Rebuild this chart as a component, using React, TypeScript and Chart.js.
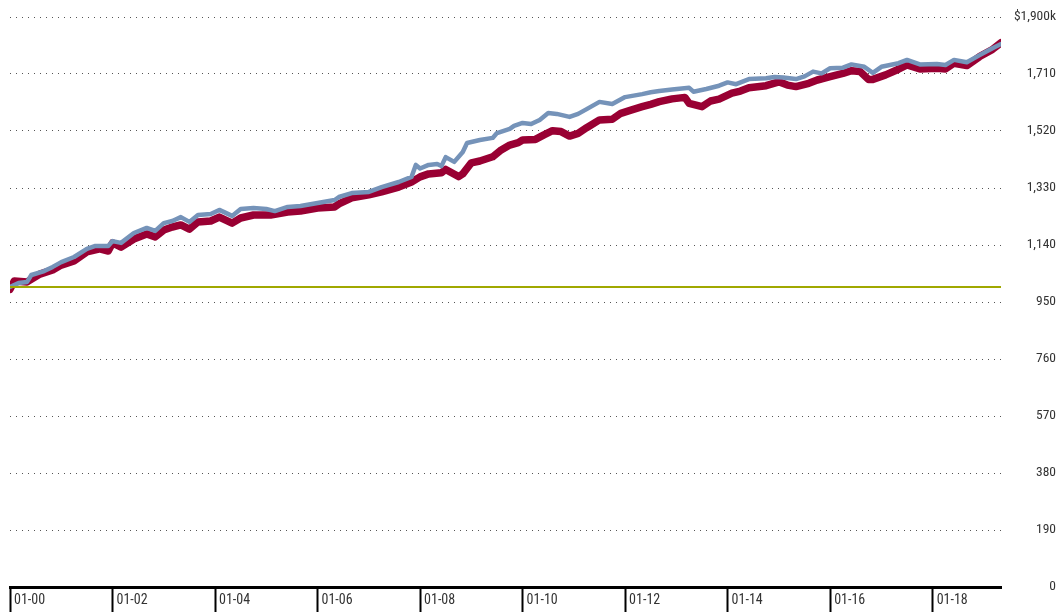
import React, { useEffect, useRef } from "react";
import { Chart, registerables } from "chart.js";

Chart.register(...registerables);

// Month index since Jan 2000 (x) and portfolio value in $k (y)
const blueMonths = [0, 2, 4, 5, 8, 10, 12, 15, 18, 20, 23, 24, 26, 29, 32, 34, 36, 38, 40, 42, 44, 47, 49, 52, 54, 57, 60, 62, 65, 68, 72, 76, 77, 80, 84, 87, 91, 94, 95, 96, 98, 100, 101, 102, 104, 106, 107, 110, 113, 114, 117, 118, 120, 122, 124, 126, 128, 131, 133, 135, 138, 141, 144, 148, 150, 152, 155, 159, 160, 163, 166, 168, 170, 173, 177, 179, 181, 184, 186, 188, 190, 192, 195, 197, 200, 202, 204, 208, 210, 213, 217, 219, 221, 224, 227, 230, 232];
const blueValues = [1000, 1013, 1017, 1040, 1053, 1067, 1083, 1100, 1127, 1137, 1137, 1153, 1147, 1180, 1197, 1187, 1213, 1220, 1233, 1217, 1240, 1243, 1257, 1237, 1260, 1263, 1260, 1253, 1267, 1270, 1280, 1290, 1300, 1313, 1317, 1333, 1350, 1367, 1407, 1395, 1407, 1410, 1403, 1433, 1417, 1450, 1480, 1490, 1497, 1513, 1527, 1537, 1547, 1543, 1557, 1580, 1577, 1567, 1577, 1593, 1617, 1610, 1633, 1643, 1649, 1653, 1658, 1664, 1651, 1660, 1671, 1682, 1676, 1693, 1696, 1700, 1698, 1693, 1702, 1718, 1712, 1729, 1731, 1742, 1734, 1714, 1734, 1746, 1757, 1742, 1743, 1740, 1757, 1749, 1773, 1796, 1810];

const redMonths = [0, 1, 4, 7, 10, 12, 15, 18, 21, 23, 24, 26, 29, 32, 34, 36, 38, 40, 42, 44, 47, 49, 52, 54, 57, 61, 65, 68, 72, 76, 77, 80, 84, 87, 91, 94, 96, 98, 101, 102, 105, 106, 108, 110, 113, 115, 117, 119, 120, 123, 125, 127, 129, 131, 133, 135, 138, 141, 143, 145, 148, 150, 152, 155, 158, 159, 162, 164, 166, 169, 171, 173, 177, 180, 182, 184, 187, 189, 192, 195, 197, 199, 201, 202, 205, 208, 210, 213, 217, 219, 221, 224, 227, 230, 232];
const redValues = [992, 1020, 1017, 1043, 1057, 1073, 1087, 1117, 1127, 1120, 1147, 1133, 1160, 1177, 1167, 1190, 1200, 1207, 1193, 1217, 1220, 1233, 1213, 1230, 1240, 1240, 1250, 1253, 1263, 1267, 1277, 1297, 1307, 1317, 1333, 1350, 1367, 1377, 1381, 1392, 1368, 1377, 1414, 1420, 1434, 1457, 1473, 1481, 1490, 1492, 1507, 1521, 1518, 1503, 1512, 1531, 1557, 1559, 1579, 1588, 1601, 1609, 1618, 1627, 1632, 1612, 1601, 1620, 1626, 1646, 1653, 1664, 1671, 1684, 1673, 1668, 1679, 1690, 1701, 1712, 1721, 1718, 1692, 1692, 1707, 1726, 1740, 1727, 1729, 1727, 1746, 1738, 1768, 1792, 1814];

const baselineMonths = [0, 232];
const baselineValues = [1000, 1000];

const xTickMonths = [0, 24, 48, 72, 96, 120, 144, 168, 192, 216];
const xTickLabels = ["01-00", "01-02", "01-04", "01-06", "01-08", "01-10", "01-12", "01-14", "01-16", "01-18"];
const yTickValues = [0, 190, 380, 570, 760, 950, 1140, 1330, 1520, 1710, 1900];
const yTickLabels = ["0", "190", "380", "570", "760", "950", "1,140", "1,330", "1,520", "1,710", "$1,900k"];

const FONT = "'Roboto Condensed', 'Liberation Sans Narrow', 'Arial Narrow', 'DejaVu Sans Condensed', sans-serif";

const toPoints = (xs: number[], ys: number[]) => xs.map((x, i) => ({ x, y: ys[i] }));

// Draws the x-axis tick labels beside the long tick marks (as in the reference)
const xLabelPlugin = {
  id: "xLabelsBeside",
  afterDraw(chart: any) {
    const xs = chart.scales.x;
    const ctx = chart.ctx;
    ctx.save();
    ctx.font = `14px ${FONT}`;
    ctx.fillStyle = "#333";
    ctx.textAlign = "left";
    ctx.textBaseline = "middle";
    xTickMonths.forEach((m, i) => {
      ctx.fillText(xTickLabels[i], xs.getPixelForValue(m) + 4, 600);
    });
    ctx.restore();
  },
};

export default function App() {
  const ref = useRef<HTMLCanvasElement | null>(null);

  useEffect(() => {
    if (!ref.current) return;
    const chart = new Chart(ref.current, {
      type: "line",
      data: {
        datasets: [
          {
            label: "Benchmark",
            data: toPoints(baselineMonths, baselineValues),
            borderColor: "#a0a800",
            borderWidth: 2,
            pointRadius: 0,
            order: 0,
          },
          {
            label: "Blue",
            data: toPoints(blueMonths, blueValues),
            borderColor: "#7593b9",
            borderWidth: 4.5,
            pointRadius: 0,
            borderJoinStyle: "round",
            borderCapStyle: "round",
            order: 1,
          },
          {
            label: "Red",
            data: toPoints(redMonths, redValues),
            borderColor: "#990033",
            borderWidth: 7.5,
            pointRadius: 0,
            borderJoinStyle: "round",
            borderCapStyle: "round",
            order: 2,
          },
        ],
      },
      options: {
        animation: false,
        responsive: false,
        maintainAspectRatio: false,
        layout: { padding: { left: 10, right: 0, top: 17, bottom: 0 } },
        plugins: { legend: { display: false }, tooltip: { enabled: false } },
        scales: {
          x: {
            type: "linear",
            min: 0,
            max: 232,
            afterBuildTicks: (scale: any) => {
              scale.ticks = xTickMonths.map((v) => ({ value: v }));
            },
            grid: {
              drawOnChartArea: false,
              drawTicks: true,
              tickLength: 25,
              tickWidth: 2,
              tickColor: "#000",
            },
            border: { display: true, color: "#000", width: 3 },
            ticks: { display: false },
          },
          y: {
            position: "right",
            min: 0,
            max: 1900,
            afterBuildTicks: (scale: any) => {
              scale.ticks = yTickValues.map((v) => ({ value: v }));
            },
            afterFit: (scale: any) => {
              scale.width = 55;
            },
            grid: {
              drawTicks: false,
              color: (ctx: any) => (ctx.tick && ctx.tick.value === 0 ? "rgba(0,0,0,0)" : "#555"),
              lineWidth: 1,
            },
            border: { display: false, dash: [1, 5] },
            ticks: {
              crossAlign: "far",
              padding: 7,
              color: "#333",
              font: { family: FONT, size: 13.5 },
              callback: (v: any) => {
                const i = yTickValues.indexOf(Number(v));
                return i >= 0 ? yTickLabels[i] : "";
              },
            },
          },
        },
      },
      plugins: [xLabelPlugin],
    });
    return () => chart.destroy();
  }, []);

  return (
    <div style={{ position: "fixed", left: 0, top: 0, width: 1056, height: 612, background: "#fff" }}>
      <canvas ref={ref} width={1056} height={612} style={{ width: 1056, height: 612, display: "block" }} />
    </div>
  );
}
